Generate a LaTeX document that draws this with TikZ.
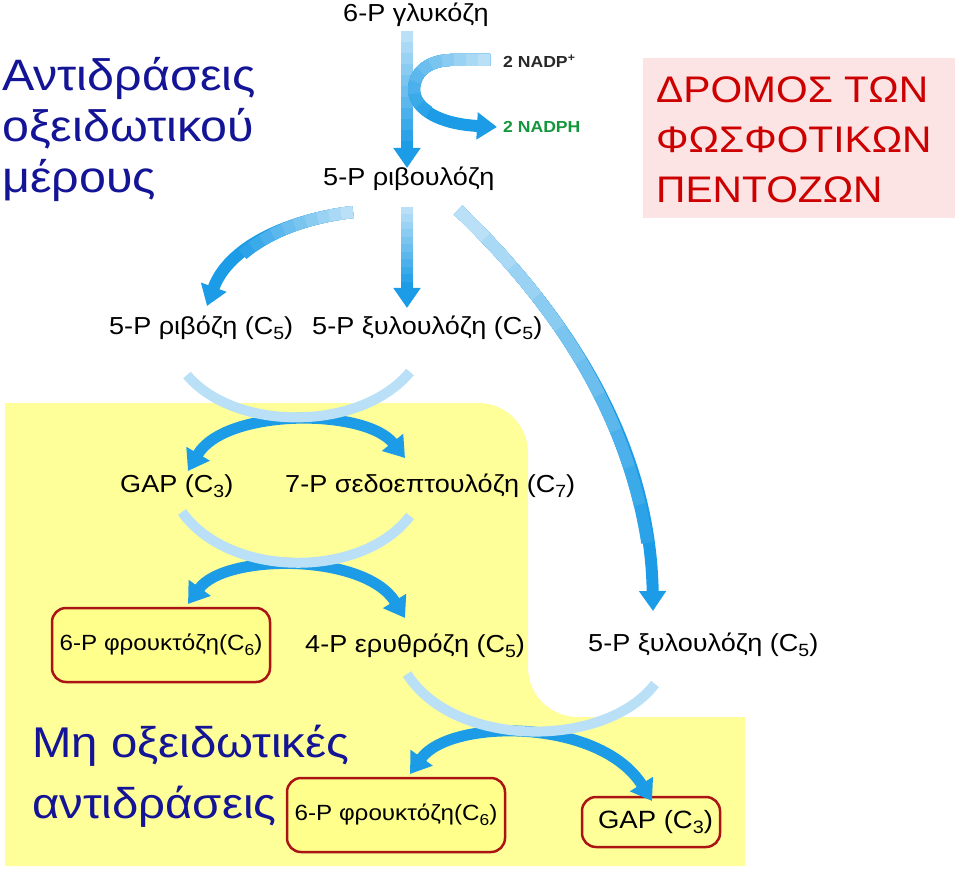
\documentclass[tikz,border=0pt]{standalone}
\usepackage{fontspec}
\setmainfont{Liberation Sans}[FakeStretch=1.1]
\usetikzlibrary{arrows.meta}
\definecolor{bgyellow}{RGB}{255,255,153}
\definecolor{boxyellow}{RGB}{255,255,140}
\definecolor{boxred}{RGB}{170,20,20}
\definecolor{pinkbg}{RGB}{252,228,228}
\definecolor{titlered}{RGB}{204,0,0}
\definecolor{navy}{RGB}{20,20,150}
\definecolor{nadpgreen}{RGB}{20,150,60}
\definecolor{cA}{RGB}{185,224,246}
\definecolor{cD}{RGB}{28,156,230}
\newcommand\lsub[1]{\raisebox{-0.22em}{\scalebox{0.72}{#1}}}
\tikzset{
  arr/.style={line width=12pt, line cap=butt},
  tip/.style={-{Triangle[width=26pt,length=20pt]}},
  tips/.style={{Triangle[width=26pt,length=20pt]}-{Triangle[width=26pt,length=20pt]}},
  lbl/.style={anchor=base west, inner sep=0pt, font=\fontsize{24.6}{28}\selectfont},
  bigtitle/.style={anchor=base west, inner sep=0pt, align=left},
  redbox/.style={draw=boxred, line width=2.5pt, rounded corners=14pt, inner sep=0pt, font=\fontsize{22}{26}\selectfont}
}
% #1 path, #2 length (pt) of the light-to-dark run, #3 arrow style
\newcommand\gradpath[3]{%
  \draw[arr, cD, #3] #1;
  \foreach \i in {1,...,10}{%
    \pgfmathsetmacro\len{#2*(11-\i)/10}%
    \pgfmathsetmacro\pc{\i*10}%
    \draw[arr, cA!\pc!cD, dash pattern=on \len pt off 9000pt] #1;
  }%
}
\begin{document}
\begin{tikzpicture}[x=1pt,y=-1pt]
\useasboundingbox (0,0) rectangle (960,874);
% yellow region of the non-oxidative phase
\fill[bgyellow] (5,403) -- (478,403) .. controls (506,403) and (528,425) .. (528,453)
  -- (528,667) .. controls (528,695) and (550,717) .. (578,717)
  -- (745,717) -- (745,866) -- (5,866) -- cycle;
% pink title background
\fill[pinkbg] (643,58) rectangle (955,218);

% titles (anchored at the baseline of their last line)
\node[bigtitle, text=navy, font=\fontsize{44}{51}\selectfont] (titleL) at (2,193)
  {Αντιδράσεις\\οξειδωτικού\\μέρους};
\node[bigtitle, text=titlered, font=\fontsize{37}{50}\selectfont] (titleR) at (656,203)
  {ΔΡΟΜΟΣ ΤΩΝ\\ΦΩΣΦΟΤΙΚΩΝ\\ΠΕΝΤΟΖΩΝ};
\node[bigtitle, text=navy, font=\fontsize{43}{61}\selectfont] (titleB) at (32,818)
  {Μη οξειδωτικές\\αντιδράσεις};

% labels
\node[lbl] (glc) at (343,22) {6-P γλυκόζη};
\node[lbl] (rbl) at (323,186) {5-P ριβουλόζη};
\node[lbl, font=\bfseries\fontsize{16}{18}\selectfont, text={rgb,255:red,40;green,40;blue,40}] (nadp) at (503,68) {2 NADP\textsuperscript{+}};
\node[lbl, font=\bfseries\fontsize{16}{18}\selectfont, text=nadpgreen] (nadph) at (503,133) {2 NADPH};
\node[lbl] (r5p) at (109,334) {5-P ριβόζη (C\lsub{5})};
\node[lbl] (x5p) at (312,334) {5-P ξυλουλόζη (C\lsub{5})};
\node[lbl] (gap1) at (120,492) {GAP (C\lsub{3})};
\node[lbl] (s7p) at (285,492) {7-P σεδοεπτουλόζη (C\lsub{7})};
\node[lbl] (e4p) at (305,652) {4-P ερυθρόζη (C\lsub{5})};
\node[lbl] (x5pb) at (588,651) {5-P ξυλουλόζη (C\lsub{5})};
\node[redbox, fill=boxyellow, minimum width=218pt, minimum height=74pt] (f6p1) at (161,645) {6-P φρουκτόζη(C\lsub{6})};
\node[redbox, fill=boxyellow, minimum width=218pt, minimum height=74pt] (f6p2) at (396,815) {6-P φρουκτόζη(C\lsub{6})};
\node[redbox, font=\fontsize{25}{28}\selectfont, minimum width=138pt, minimum height=50pt] (gap2) at (651,822) {\hspace*{9pt}GAP (C\lsub{3})};

% connector end points
\coordinate (g0) at (407,31);
\coordinate (g1) at (407,168);
\coordinate (n0) at (490,60);
\coordinate (n1) at (497,127);
\coordinate (a0) at (353,212);
\coordinate (a1) at (207,306);
\coordinate (b0) at (407,207);
\coordinate (b1) at (407,308);
\coordinate (c0) at (458,210);
\coordinate (c1) at (653,611);

% oxidative phase arrows
\gradpath{(g0) -- (g1)}{110}{tip}
\gradpath{(n0) -- (450,60) .. controls (426,61) and (414,74) .. (414,90) .. controls (415,110) and (440,124) .. (n1)}{120}{tip}
\gradpath{(a0) .. controls (285,220) and (228,248) .. (a1)}{120}{tip}
\gradpath{(b0) -- (b1)}{75}{tip}
\gradpath{(c0) .. controls (552,300) and (650,430) .. (c1)}{390}{tip}

% transketolase / transaldolase crossings
\coordinate (u1a) at (187,375);  \coordinate (u1b) at (410,372);
\coordinate (d1a) at (188,471);  \coordinate (d1b) at (405,458);
\draw[arr, line width=11pt, cD, tips] (d1a) .. controls (225,408) and (365,408) .. (d1b);
\draw[arr, line width=10pt, cA] (u1a) .. controls (235,432) and (360,432) .. (u1b);

\coordinate (u2a) at (182,512);  \coordinate (u2b) at (410,516);
\coordinate (d2a) at (188,604);  \coordinate (d2b) at (405,618);
\draw[arr, line width=11pt, cD, tips] (d2a) .. controls (225,553) and (365,553) .. (d2b);
\draw[arr, line width=10pt, cA] (u2a) .. controls (230,579) and (362,579) .. (u2b);

\coordinate (u3a) at (407,674);  \coordinate (u3b) at (655,684);
\coordinate (d3a) at (410,774);  \coordinate (d3b) at (652,801);
\draw[arr, line width=11pt, cD, tips] (d3a) .. controls (450,718) and (600,718) .. (d3b);
\draw[arr, line width=10pt, cA] (u3a) .. controls (455,749) and (605,749) .. (u3b);
\end{tikzpicture}
\end{document}
